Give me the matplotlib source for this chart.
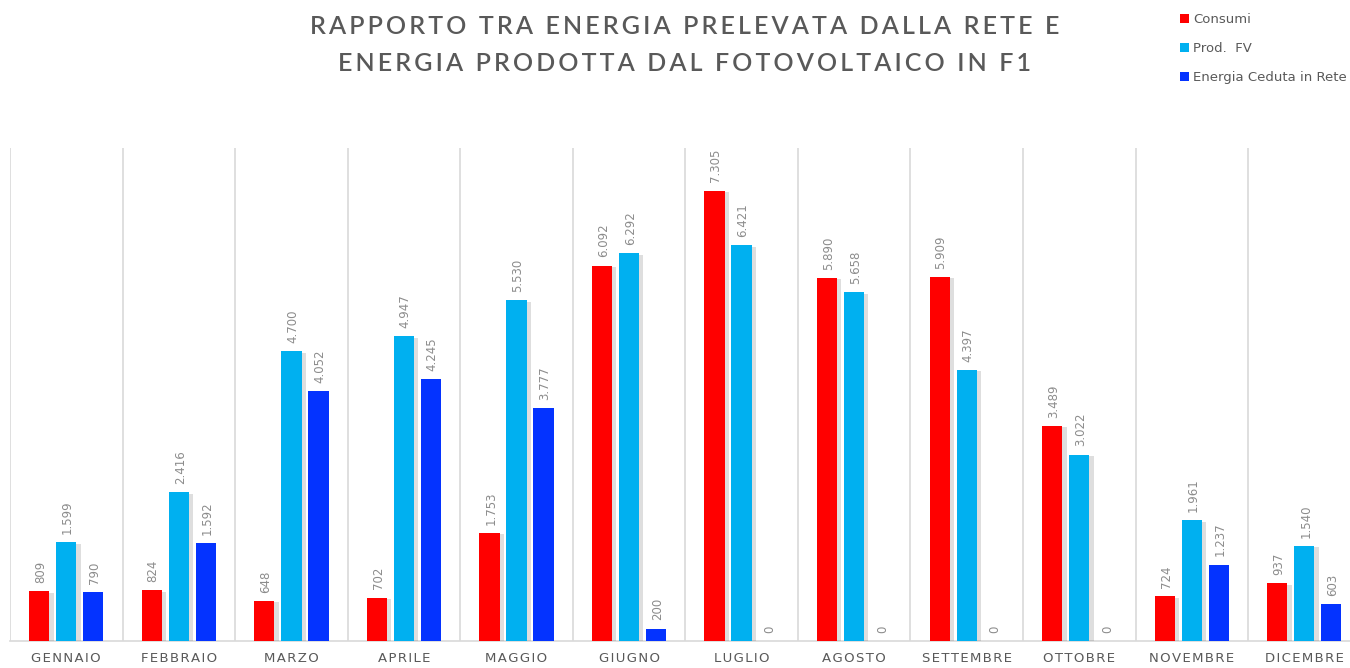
import matplotlib.pyplot as plt
import matplotlib.patheffects as pe
import numpy as np

MONTHS = ["GENNAIO", "FEBBRAIO", "MARZO", "APRILE", "MAGGIO", "GIUGNO",
          "LUGLIO", "AGOSTO", "SETTEMBRE", "OTTOBRE", "NOVEMBRE", "DICEMBRE"]
CONSUMI = [809, 824, 648, 702, 1753, 6092, 7305, 5890, 5909, 3489, 724, 937]
PROD_FV = [1599, 2416, 4700, 4947, 5530, 6292, 6421, 5658, 4397, 3022, 1961, 1540]
CEDUTA = [790, 1592, 4052, 4245, 3777, 200, 0, 0, 0, 0, 1237, 603]

SERIES = [
    ("Consumi", CONSUMI, "#ff0000", True),
    ("Prod.  FV", PROD_FV, "#00b0f0", True),
    ("Energia Ceduta in Rete", CEDUTA, "#0433ff", False),
]

TEXT_GREY = "#595959"
LABEL_GREY = "#8c8c8c"


def spaced(s, sep="\u200a"):
    return sep.join(s)


def spaced_title(s):
    # wide letter spacing, double gap between words
    return "\u2002".join("\u2009".join(w) for w in s.split(" "))


def fmt(v):
    return f"{v:,}".replace(",", ".")


fig = plt.figure(figsize=(13.5, 6.68), dpi=100)
ax = fig.add_axes([10 / 1350, 27 / 668, 1350.6 / 1350, 493 / 668])

x = np.arange(len(MONTHS))
width = 0.18
offsets = [-0.24, 0.0, 0.24]
shadow = [pe.SimplePatchShadow(offset=(3, -1), shadow_rgbFace="#000000", alpha=0.13), pe.Normal()]

for (name, vals, color, has_shadow), off in zip(SERIES, offsets):
    bars = ax.bar(x + off, vals, width=width, color=color, zorder=3, label=name)
    if has_shadow:
        for b in bars:
            b.set_path_effects(shadow)
    for xi, v in zip(x + off, vals):
        ax.annotate(fmt(v), (xi, v), xytext=(1, 6), textcoords="offset points",
                    rotation=90, ha="center", va="bottom", fontsize=8.5,
                    color=LABEL_GREY, zorder=4)

for b in np.arange(len(MONTHS) + 1) - 0.5:
    ax.axvline(b, color="#d9d9d9", linewidth=1.2, zorder=1)

ax.set_xlim(-0.5, len(MONTHS) - 0.5)
ax.set_ylim(0, 8000)
ax.set_yticks([])
ax.set_xticks(x)
ax.set_xticklabels([spaced(m) for m in MONTHS], fontsize=9.5, color=TEXT_GREY)
ax.tick_params(axis="x", length=0, pad=8)
for side in ["top", "right", "left"]:
    ax.spines[side].set_visible(False)
ax.spines["bottom"].set_color("#d9d9d9")
ax.spines["bottom"].set_linewidth(1.2)

title_kw = dict(ha="center", va="center", fontsize=18, color=TEXT_GREY,
                fontfamily="Lato", fontweight="semibold")
fig.text(0.507, 0.960, spaced_title("RAPPORTO TRA ENERGIA PRELEVATA DALLA RETE E"), **title_kw)
fig.text(0.507, 0.905, spaced_title("ENERGIA PRODOTTA DAL FOTOVOLTAICO IN F1"), **title_kw)

leg = fig.legend(loc="upper left", bbox_to_anchor=(1167 / 1350, 1.0), frameon=False,
                 fontsize=9.5, handlelength=0.7, handleheight=0.7, handletextpad=0.3,
                 labelspacing=1.2, labelcolor=TEXT_GREY, borderaxespad=0.6)
for h in leg.legend_handles:
    h.set_path_effects([])

fig.savefig("out.png", dpi=100)
